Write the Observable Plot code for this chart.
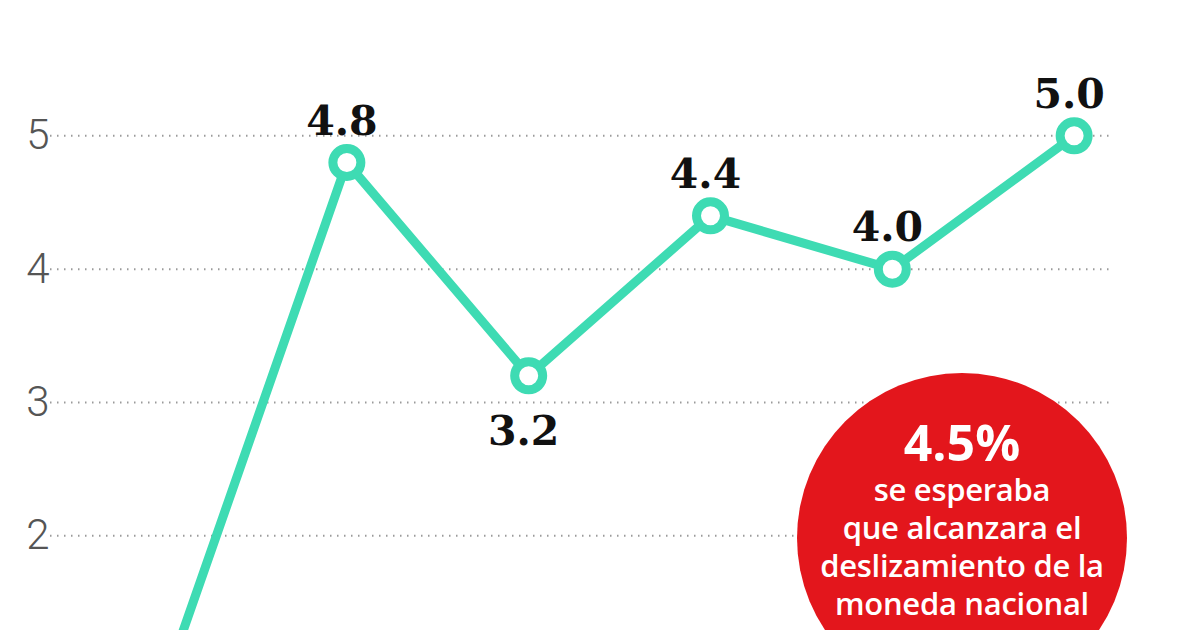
<!DOCTYPE html>
<html>
<head>
<meta charset="utf-8">
<script src="https://cdn.jsdelivr.net/npm/d3@7"></script>
<script src="https://cdn.jsdelivr.net/npm/@observablehq/plot@0.6"></script>
<style>
  html, body { margin: 0; padding: 0; background: #fff; overflow: hidden; width: 1200px; height: 630px; }
  #wrap { position: relative; width: 1200px; height: 630px; overflow: hidden; }
  #chart { position: absolute; left: 0; top: 0; }
  #bubble {
    position: absolute; left: 797px; top: 373px; width: 330px; height: 330px;
    border-radius: 50%; background: #e3161c; color: #fff; text-align: center;
    font-family: "Open Sans", sans-serif;
  }
  #bubble .inner { position: absolute; left: 0; right: 0; top: 45px; }
  #bubble .big { display: block; font-size: 50px; line-height: 48px; font-weight: 700; margin-bottom: 4px; }
  #bubble .txt { display: block; font-size: 31px; line-height: 38px; font-weight: 600; letter-spacing: -0.3px; }
</style>
</head>
<body>
<div id="wrap">
  <div id="chart"></div>
  <div id="bubble">
    <div class="inner"><span class="big">4.5%</span><span class="txt">se esperaba<br>que alcanzara el<br>deslizamiento de la<br>moneda nacional<br>en 2018</span></div>
  </div>
</div>
<script>
// Data
const years = [2013, 2014, 2015, 2016, 2017, 2018];
const values = [0.9, 4.8, 3.2, 4.4, 4.0, 5.0];
const valueLabels = [null, "4.8", "3.2", "4.4", "4.0", "5.0"];
const labelsBelow = [2015];
const yTicks = [2, 3, 4, 5];

const data = years.map((year, i) => ({ year, value: values[i], label: valueLabels[i] }));
const labelled = data.filter(d => d.label != null);
const above = labelled.filter(d => !labelsBelow.includes(d.year));
const below = labelled.filter(d => labelsBelow.includes(d.year));

const teal = "#3edbb3";

const chart = Plot.plot({
  width: 1200,
  height: 830,
  marginTop: 2,
  marginBottom: 28,
  marginLeft: 50,
  marginRight: 90,
  x: { domain: [2012.37, 2018.2], axis: null },
  y: { domain: [0, 6], axis: null },
  marks: [
    Plot.gridY(yTicks, { stroke: "#9a9a9a", strokeOpacity: 1, strokeWidth: 2, strokeDasharray: "1.5,5.5" }),
    Plot.text(yTicks, {
      y: d => d, text: d => String(d), frameAnchor: "left", textAnchor: "end", dx: -1,
      fontFamily: "Roboto", fontWeight: 300, fontSize: 42, fill: "#555"
    }),
    Plot.line(data, { x: "year", y: "value", stroke: teal, strokeWidth: 9, strokeLinejoin: "miter" }),
    Plot.dot(data, { x: "year", y: "value", r: 14, stroke: teal, strokeWidth: 9, fill: "white" }),
    Plot.text(above, {
      x: "year", y: "value", text: "label", lineAnchor: "bottom", dy: -28, dx: -5,
      fontFamily: "DejaVu Serif", fontWeight: "bold", fontSize: 41, fill: "#111"
    }),
    Plot.text(below, {
      x: "year", y: "value", text: "label", lineAnchor: "top", dy: 40, dx: -5,
      fontFamily: "DejaVu Serif", fontWeight: "bold", fontSize: 41, fill: "#111"
    })
  ]
});
document.getElementById("chart").appendChild(chart);
</script>
</body>
</html>
